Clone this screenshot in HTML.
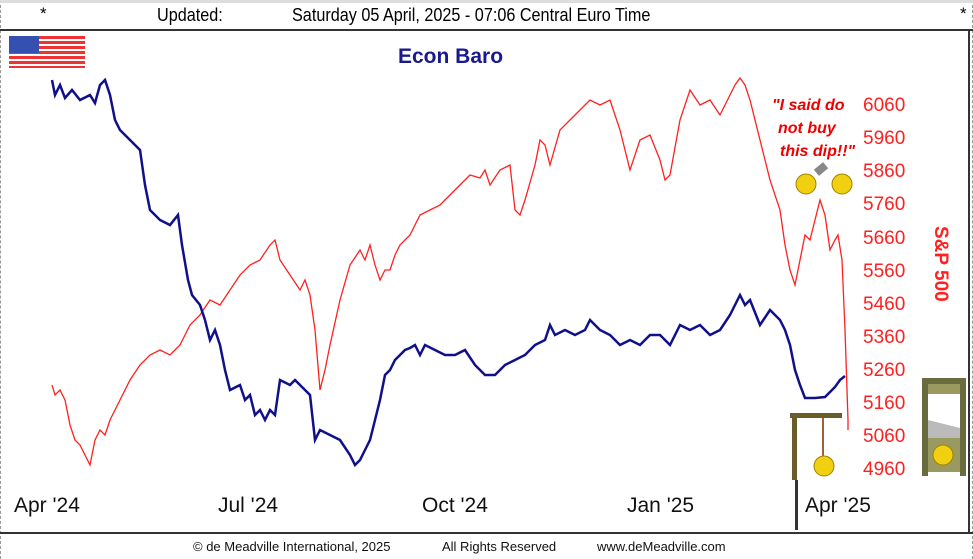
<!DOCTYPE html>
<html><head><style>
body{margin:0;width:973px;height:559px;background:#fff;overflow:hidden;font-family:"Liberation Sans",sans-serif;position:relative}
.t{position:absolute;white-space:nowrap}
</style></head><body>
<div style="position:absolute;left:0;top:0;width:973px;height:559px;border-left:1px dashed #999;border-right:1px dashed #999;box-sizing:border-box"></div>
<div style="position:absolute;left:0;top:0;width:973px;height:3px;background:#ddd"></div>
<div class="t" style="left:40px;top:4px;font-size:17px">*</div>
<div class="t" style="left:157px;top:5px;font-size:18px;transform:scaleX(.9);transform-origin:left">Updated:</div>
<div class="t" style="left:292px;top:5px;font-size:18px;transform:scaleX(.9);transform-origin:left">Saturday 05 April, 2025 - 07:06 Central Euro Time</div>
<div class="t" style="left:960px;top:4px;font-size:17px">*</div>
<div style="position:absolute;left:0;top:29px;width:973px;height:2px;background:#333"></div>
<div style="position:absolute;left:0;top:532px;width:973px;height:2px;background:#333"></div>
<div style="position:absolute;left:968px;top:29px;width:2px;height:505px;background:#333"></div>
<svg style="position:absolute;left:9px;top:36px" width="76" height="32">
<rect width="76" height="32" fill="#fff"/>
<g fill="#e33"><rect y="0" width="76" height="3"/><rect y="5" width="76" height="3"/><rect y="10" width="76" height="3"/><rect y="15" width="76" height="3"/><rect y="20" width="76" height="3"/><rect y="25" width="76" height="3"/><rect y="30" width="76" height="2"/></g>
<rect width="30" height="17" fill="#3650b0"/></svg>
<div class="t" style="left:398px;top:45px;font-size:21px;font-weight:bold;color:#1a1a8c">Econ Baro</div>
<svg style="position:absolute;left:0;top:0" width="973" height="559">
<polyline fill="none" stroke="#ff2020" stroke-width="1.3" points="52,385 55,395 60,390 65,400 70,425 75,440 80,445 85,455 90,465 95,440 100,430 105,435 110,420 120,400 130,380 140,365 150,355 160,350 170,355 180,345 190,325 200,315 210,300 220,305 230,290 240,275 250,265 260,260 270,245 275,240 280,260 290,275 300,290 305,280 310,295 315,330 320,390 325,370 330,345 340,300 350,265 360,250 365,260 370,245 375,265 380,280 385,270 390,270 395,255 400,245 410,235 420,215 430,210 440,205 450,195 460,185 470,175 480,178 485,170 490,185 500,170 510,165 515,210 520,215 525,200 535,165 540,140 545,145 550,165 560,130 570,120 580,110 590,100 600,105 610,100 620,130 630,170 640,140 650,135 660,160 665,180 670,175 680,120 690,90 700,105 710,100 720,115 730,95 735,85 740,78 745,85 750,100 760,140 765,160 770,180 780,210 785,245 790,270 795,285 800,260 805,235 810,240 815,220 820,200 825,215 830,250 835,240 838,235 842,260 845,330 848,420 848,430"/>
<polyline fill="none" stroke="#10108a" stroke-width="2.5" points="52,80 55,95 60,85 65,98 72,90 80,100 90,95 95,103 100,85 105,80 110,95 115,120 120,130 125,135 130,140 140,150 145,185 150,210 160,220 170,225 178,215 182,245 188,280 192,295 200,305 205,320 210,340 215,330 220,345 225,370 230,390 240,385 245,400 250,395 255,415 260,410 265,420 270,410 275,415 280,380 290,385 295,380 305,390 310,395 315,440 320,430 330,435 340,440 350,455 355,465 360,460 365,450 370,440 375,420 380,400 385,375 390,370 395,360 400,355 405,350 410,348 415,345 420,355 425,345 435,350 445,355 455,355 465,350 475,365 485,375 495,375 505,365 515,360 525,355 535,345 545,340 550,325 555,335 565,330 575,335 585,330 590,320 600,330 610,335 620,345 630,340 640,345 650,335 660,335 670,345 680,325 690,330 700,325 710,335 720,330 730,315 740,295 745,305 750,300 760,325 770,310 780,320 785,330 790,345 795,370 800,385 805,398 815,398 825,397 835,387 840,380 845,376"/>
<g fill="#ff2020" font-size="19" font-family="Liberation Sans">
<text x="863" y="111">6060</text><text x="863" y="144">5960</text><text x="863" y="177">5860</text><text x="863" y="210">5760</text><text x="863" y="244">5660</text><text x="863" y="277">5560</text><text x="863" y="310">5460</text><text x="863" y="343">5360</text><text x="863" y="376">5260</text><text x="863" y="409">5160</text><text x="863" y="442">5060</text><text x="863" y="475">4960</text>
</g>
<text transform="translate(935,226) rotate(90)" fill="#ff2020" font-size="19" font-weight="bold" font-family="Liberation Sans">S&amp;P 500</text>
<g fill="#ee0000" font-size="16" font-weight="bold" font-style="italic" font-family="Liberation Sans">
<text x="772" y="110">"I said do</text><text x="778" y="133">not buy</text><text x="780" y="156">this dip!!"</text></g>
<circle cx="806" cy="184" r="10" fill="#f0d010" stroke="#a08000"/><circle cx="842" cy="184" r="10" fill="#f0d010" stroke="#a08000"/>
<rect x="815" y="165" width="12" height="8" fill="#888" transform="rotate(-40 821 169)"/>
<g fill="#6b5a2a"><rect x="790" y="413" width="52" height="5"/><rect x="792" y="418" width="5" height="62"/></g>
<line x1="823" y1="418" x2="823" y2="458" stroke="#a0603a" stroke-width="2"/>
<circle cx="824" cy="466" r="10" fill="#f0d010" stroke="#a08000"/>
<rect x="922" y="378" width="44" height="6" fill="#6b6b40"/>
<rect x="922" y="378" width="6" height="98" fill="#6b6b40"/><rect x="960" y="378" width="6" height="98" fill="#6b6b40"/>
<rect x="928" y="384" width="32" height="10" fill="#9a9a60"/>
<polygon points="928,420 960,428 960,438 928,438" fill="#bbb"/>
<rect x="928" y="438" width="32" height="34" fill="#9a9a60"/>
<circle cx="943" cy="455" r="10" fill="#f0d010" stroke="#a08000"/>
<rect x="795" y="480" width="3" height="50" fill="#333"/>
</svg>
<div class="t" style="left:14px;top:494px;font-size:21px;color:#111">Apr '24</div>
<div class="t" style="left:218px;top:494px;font-size:21px;color:#111">Jul '24</div>
<div class="t" style="left:422px;top:494px;font-size:21px;color:#111">Oct '24</div>
<div class="t" style="left:627px;top:494px;font-size:21px;color:#111">Jan '25</div>
<div class="t" style="left:805px;top:494px;font-size:21px;color:#111">Apr '25</div>
<div class="t" style="left:193px;top:539px;font-size:13px;color:#111">© de Meadville International, 2025</div>
<div class="t" style="left:442px;top:539px;font-size:13px;color:#111">All Rights Reserved</div>
<div class="t" style="left:597px;top:539px;font-size:13px;color:#111">www.deMeadville.com</div>
</body></html>
